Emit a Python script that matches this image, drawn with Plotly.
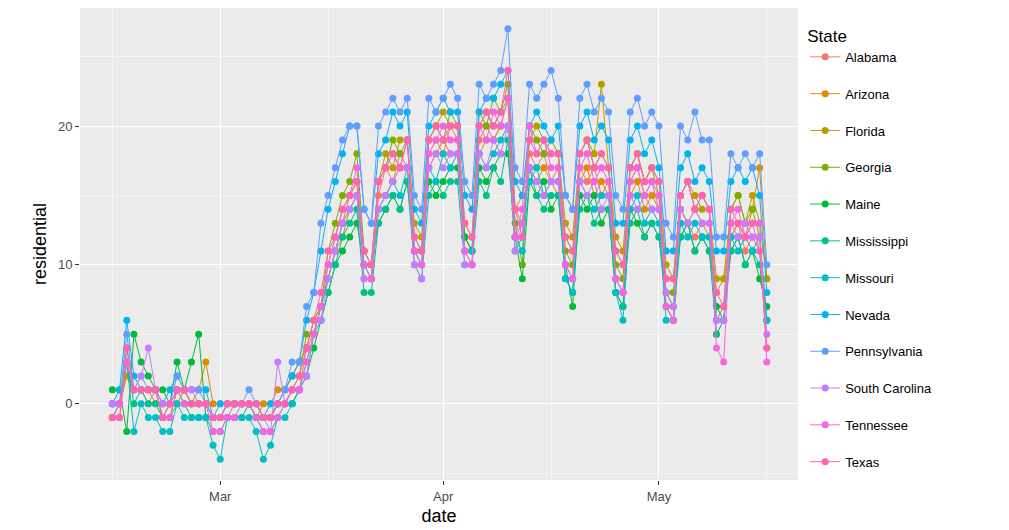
import pandas as pd
import plotly.graph_objects as go

dates = pd.date_range("2020-02-15", periods=92, freq="D")

states = ["Alabama", "Arizona", "Florida", "Georgia", "Maine", "Mississippi", "Missouri",
          "Nevada", "Pennsylvania", "South Carolina", "Tennessee", "Texas"]
colors = ["#F8766D", "#DE8C00", "#B79F00", "#7CAE00", "#00BA38", "#00C08B", "#00BFC4",
          "#00B4F0", "#619CFF", "#C77CFF", "#F564E3", "#FF64B0"]

alabama = [-1,-1,3,1,1,0,1, -1,0,1,1,0,0,0, -1,-1,-1,0,0,0,-1, -1,-1,0,0,1,1,4,
           5,7,10,12,14,15,16, 9,9,15,17,16,18,17, 11,10,18,19,18,20,19, 11,10,19,20,19,20,22,
           12,13,18,17,18,16,17, 10,9,17,16,17,15,16, 9,8,16,17,15,16,14, 7,6,14,13,12,13,13,
           5,6,12,13,11,12,11, 4]
arizona = [-1,0,2,1,1,1,1, 0,0,1,0,0,1,3, 0,0,0,0,0,0,-1, 0,0,1,1,2,3,4,
           6,7,9,11,12,14,15, 10,9,14,15,16,17,17, 11,11,17,18,19,18,18, 12,11,18,19,19,20,20,
           14,13,17,16,17,16,15, 12,11,16,17,15,16,15, 11,10,15,16,14,15,14, 9,9,14,13,14,13,12,
           8,9,12,13,12,14,17, 9]
florida = [0,0,2,1,1,1,0, -1,-1,0,1,0,0,0, -1,-1,0,0,0,0,-1, -1,-1,0,1,2,3,4,
           6,7,9,11,13,15,16, 11,10,16,18,17,19,19, 13,12,19,20,21,20,20, 13,12,20,21,20,21,22,
           14,15,19,20,19,18,18, 13,12,18,19,18,23,17, 12,11,17,18,16,17,16, 10,9,15,16,15,14,14,
           9,9,14,15,13,15,13, 9]
georgia = [-1,0,4,1,1,1,1, -1,0,1,1,0,0,0, -1,-1,0,0,0,0,0, -1,-1,0,0,1,2,5,
           5,7,11,13,15,16,18, 11,10,16,17,19,18,19, 12,11,19,20,19,21,20, 12,11,21,20,22,21,23,
           13,10,20,19,18,19,18, 11,10,18,19,17,18,17, 10,9,17,18,16,17,15, 8,8,15,16,14,15,14,
           6,7,14,15,13,14,12, 6]
maine = [1,1,-2,5,3,2,1, 1,0,3,1,3,5,-1, -1,-1,0,0,0,0,-1, -1,-1,0,0,0,1,2,
         4,6,8,10,11,12,13, 10,10,13,14,15,14,16, 11,11,16,15,16,17,17, 12,11,17,16,17,18,18,
         12,9,16,15,16,14,15, 10,7,15,14,15,13,14, 8,7,14,13,12,13,12, 8,7,12,13,11,12,11,
         7,6,11,12,10,11,9, 7]
mississippi = [0,0,3,0,1,0,0, -1,-1,1,0,-1,-1,-1, -2,-2,-1,-1,-1,0,-1, -2,-2,-1,0,0,1,3,
               5,6,8,10,12,13,14, 8,8,13,14,15,14,16, 10,9,15,16,15,16,16, 10,10,16,15,17,16,19,
               11,12,17,15,14,15,15, 9,8,14,15,13,14,14, 8,7,13,14,12,13,12, 7,6,12,13,11,12,11,
               5,6,11,12,10,11,10, 6]
missouri = [0,0,3,-2,0,-1,-1, -2,-2,0,-1,-1,-1,-1, -3,-4,-1,-1,-1,-1,-2, -4,-3,-1,-1,0,1,2,
            5,7,9,11,13,14,15, 10,9,14,15,16,15,17, 11,10,17,16,18,17,18, 11,11,18,17,18,19,20,
            12,11,16,17,15,16,16, 9,8,16,15,14,15,15, 8,6,14,15,13,14,13, 6,6,13,12,13,12,12,
            6,6,12,11,12,11,12, 6]
nevada = [0,1,6,2,1,1,1, 0,1,2,1,1,1,1, -1,0,0,0,0,0,0, -1,0,0,1,2,3,6,
          8,11,14,16,18,20,20, 14,13,18,19,21,20,21, 14,13,20,21,22,21,21, 15,14,21,22,22,23,24,
          16,15,20,21,20,19,20, 15,14,20,21,19,20,19, 13,13,19,20,18,19,17, 11,11,17,18,16,17,16,
          11,11,16,17,16,17,15, 8]
pennsylvania = [0,0,5,1,2,1,1, 0,0,2,1,1,1,0, -1,-1,0,0,0,1,0, -1,-1,0,1,3,3,7,
                8,13,15,17,19,20,20, 14,13,20,21,22,21,22, 15,14,22,21,22,23,22, 16,15,23,22,23,24,27,
                17,16,23,22,23,24,22, 15,14,22,23,21,22,21, 15,14,21,22,20,21,20, 13,12,20,19,21,19,19,
                12,12,18,17,18,17,18, 10]
south_carolina = [0,0,3,1,2,4,1, 0,0,1,1,1,0,0, -1,-1,0,0,0,0,0, -1,-2,3,0,1,1,2,
                  5,6,9,11,13,14,15, 9,9,14,15,16,17,17, 10,9,17,18,17,18,18, 10,10,18,17,19,18,20,
                  11,13,17,16,15,16,16, 10,9,16,15,16,14,15, 9,8,15,14,15,14,14, 8,7,14,13,14,13,13,
                  6,6,13,12,13,12,12, 5]
tennessee = [-1,0,3,1,1,1,1, -1,-1,1,0,0,0,0, -2,-2,-1,-1,0,0,-1, -2,-2,-1,0,1,1,3,
             5,7,10,12,14,15,17, 10,9,16,17,18,17,19, 11,10,18,19,20,19,19, 11,10,20,19,21,20,22,
             12,14,20,18,19,17,17, 10,9,17,18,16,17,16, 9,8,16,17,15,16,15, 7,6,15,16,14,15,14,
             4,3,13,14,12,13,13, 3]
texas = [-1,-1,4,1,1,1,1, -1,0,1,1,0,0,0, -1,-1,0,0,0,0,0, -1,-1,0,0,1,2,4,
         6,8,11,12,14,15,16, 11,10,16,17,18,17,19, 12,11,19,20,19,20,20, 13,12,20,21,20,21,24,
         14,12,19,18,19,18,18, 12,11,18,19,17,18,17, 11,10,17,18,16,17,16, 9,9,15,16,14,15,14,
         8,7,14,13,12,13,11, 4]

series = [alabama, arizona, florida, georgia, maine, mississippi, missouri,
          nevada, pennsylvania, south_carolina, tennessee, texas]

fig = go.Figure()
for name, col, vals in zip(states, colors, series):
    fig.add_trace(go.Scatter(x=dates, y=vals, mode="lines+markers", name=name + "<br> ",
                             line=dict(color=col, width=1), marker=dict(color=col, size=7)))

grid = dict(showgrid=True, gridcolor="white", gridwidth=1.1, zeroline=False,
            ticks="outside", ticklen=4, tickcolor="#333333",
            tickfont=dict(color="#4D4D4D", size=13))
fig.update_layout(
    width=1009, height=530,
    margin=dict(l=72, r=219, t=0, b=58),
    plot_bgcolor="#EBEBEB", paper_bgcolor="white",
    font=dict(family="Liberation Sans, Arial", color="black"),
    legend=dict(title=dict(text="State", font=dict(size=17)), font=dict(size=13),
                x=1.01, y=0.975, xanchor="left", yanchor="top", bgcolor="white",
                valign="top", maxheight=600),
    xaxis=dict(grid, range=["2020-02-10 12:00", "2020-05-20 08:00"],
               tickvals=["2020-03-01", "2020-04-01", "2020-05-01"],
               ticktext=["Mar", "Apr", "May"],
               minor=dict(tickvals=["2020-02-15", "2020-03-16", "2020-04-16", "2020-05-16"],
                          showgrid=True, gridcolor="#F5F5F5", gridwidth=0.6),
               title=dict(text="date", font=dict(size=18), standoff=6)),
    yaxis=dict(grid, range=[-5.5, 28.5], tickvals=[0, 10, 20],
               minor=dict(dtick=5, tick0=-5, showgrid=True, gridcolor="#F5F5F5", gridwidth=0.6),
               title=dict(text="residential", font=dict(size=18), standoff=6)),
)
fig.write_html("out.html")
